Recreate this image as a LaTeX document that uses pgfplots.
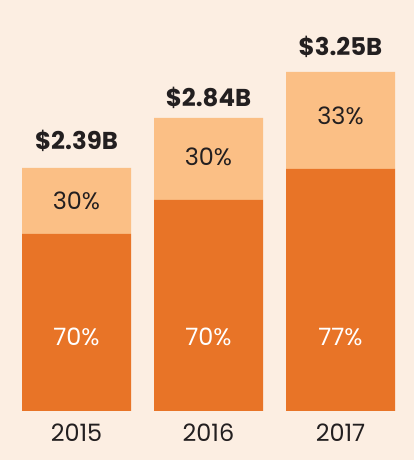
\documentclass[border=0pt]{standalone}
\usepackage{pgfplots}
\pgfplotsset{compat=1.18}
\usepackage{fontspec}
\setmainfont{Poppins}
\definecolor{bg}{HTML}{FCEEE2}
\definecolor{darko}{HTML}{E87427}
\definecolor{lighto}{HTML}{FBBF85}
\definecolor{txt}{HTML}{231F20}
\tikzset{lbl/.style={font=\fontsize{24}{26}\selectfont, text=txt},
  blbl/.style={font=\fontsize{24.5}{26}\selectfont\bfseries, text=txt}}
\begin{document}
\begin{tikzpicture}
\fill[bg] (0,0) rectangle (414bp,460bp);
\begin{axis}[
  at={(0,0)}, anchor=south west,
  scale only axis, width=414bp, height=460bp,
  xmin=0, xmax=414, ymin=-49, ymax=411,
  axis lines=none, xtick=\empty, ytick=\empty,
  ybar stacked, bar width=109,
  clip=false,
]
\addplot[fill=darko, draw=none] coordinates {(76.5,177) (208.5,211) (340.5,242)};
\addplot[fill=lighto, draw=none] coordinates {(76.5,66) (208.5,82) (340.5,97)};
\coordinate (t1) at (axis cs:76.5,270);
\coordinate (t2) at (axis cs:208.5,313);
\coordinate (t3) at (axis cs:340.5,364);
\coordinate (l1) at (axis cs:76.5,210);
\coordinate (l2) at (axis cs:208.5,254);
\coordinate (l3) at (axis cs:340.5,295);
\coordinate (d1) at (axis cs:76.5,74);
\coordinate (d2) at (axis cs:208.5,74);
\coordinate (d3) at (axis cs:340.5,74);
\coordinate (y1) at (axis cs:76.5,-22);
\coordinate (y2) at (axis cs:208.5,-22);
\coordinate (y3) at (axis cs:340.5,-22);
\end{axis}
\node[blbl] at (t1) {\$2.39B};
\node[blbl] at (t2) {\$2.84B};
\node[blbl] at (t3) {\$3.25B};
\node[lbl] at (l1) {30\%};
\node[lbl] at (l2) {30\%};
\node[lbl] at (l3) {33\%};
\node[lbl,text=white] at (d1) {70\%};
\node[lbl,text=white] at (d2) {70\%};
\node[lbl,text=white] at (d3) {77\%};
\node[lbl] at (y1) {2015};
\node[lbl] at (y2) {2016};
\node[lbl] at (y3) {2017};
\end{tikzpicture}
\end{document}
